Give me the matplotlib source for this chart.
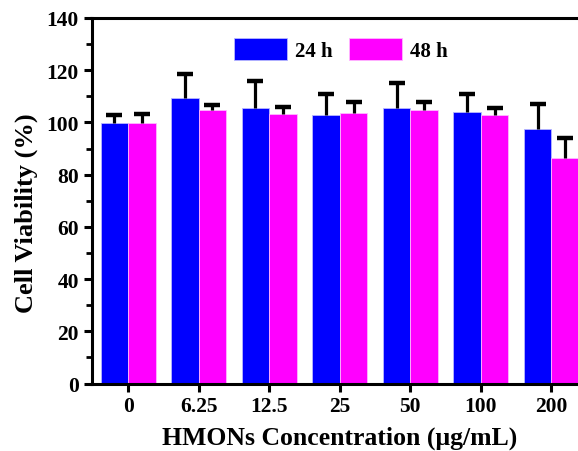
import numpy as np
import matplotlib
matplotlib.use("Agg")
import matplotlib.pyplot as plt

plt.rcParams['font.family'] = ['Liberation Serif', 'DejaVu Serif']
plt.rcParams['font.weight'] = 'bold'

conc = ['0', '6.25', '12.5', '25', '50', '100', '200']
v24 = [99.7, 109.5, 105.5, 102.9, 105.6, 104.1, 97.4]
e24 = [3.0, 9.0, 10.5, 7.9, 9.4, 6.7, 9.8]
v48 = [99.6, 104.9, 103.4, 103.5, 104.8, 102.8, 86.3]
e48 = [3.5, 1.9, 2.7, 4.3, 3.0, 2.7, 7.7]

fig = plt.figure(figsize=(5.78, 4.52), dpi=100)
# axes runs a bit past the right edge, like the cropped original
ax = fig.add_axes([91.5/578, 1-384.5/452, (588-91.5)/578, (384.5-19)/452])

x = np.arange(len(conc))
w = 0.39
ax.bar(x - w/2, v24, w, color='#0000ff', edgecolor='#b8b8ff', linewidth=0.6, label='24 h', zorder=2)
ax.bar(x + w/2, v48, w, color='#ff00ff', edgecolor='#ffb8ff', linewidth=0.6, label='48 h', zorder=2)

# one-sided (upper) error bars
for xs, v, e in [(x - w/2, v24, e24), (x + w/2, v48, e48)]:
    top = np.array(v) + np.array(e)
    ax.vlines(xs, v, top, color='black', linewidth=2.3, zorder=3)
    ax.plot(xs, top, linestyle='none', marker='_', markersize=12, mew=3.2, color='black', zorder=3)

ax.set_xlim(-0.52, len(conc) - 1 + 0.52)
ax.set_ylim(0, 140)
ax.set_xticks(x)
ax.set_xticklabels(conc)
ax.set_yticks(np.arange(0, 141, 20))
ax.set_yticks(np.arange(10, 140, 20), minor=True)
ax.tick_params(axis='both', which='major', direction='out', length=6, width=2.2, labelsize=15.5, pad=3)
ax.tick_params(axis='y', which='minor', direction='out', length=4, width=2)
ax.tick_params(top=False, right=False)
for s in ax.spines.values():
    s.set_linewidth(2.2)

ax.set_xlabel('HMONs Concentration (μg/mL)', fontsize=18.5, fontweight='bold', labelpad=7)
ax.set_ylabel('Cell Viability (%)', fontsize=19, fontweight='bold')
ax.yaxis.set_label_coords(-0.108, 0.469)

ax.legend(loc='center', bbox_to_anchor=(0.5025, 0.913), ncol=2, frameon=False,
          fontsize=15, handlelength=2.55, handleheight=1.25, columnspacing=0.77,
          handletextpad=0.4, borderpad=0, borderaxespad=0)

fig.savefig('out.png', dpi=100)
